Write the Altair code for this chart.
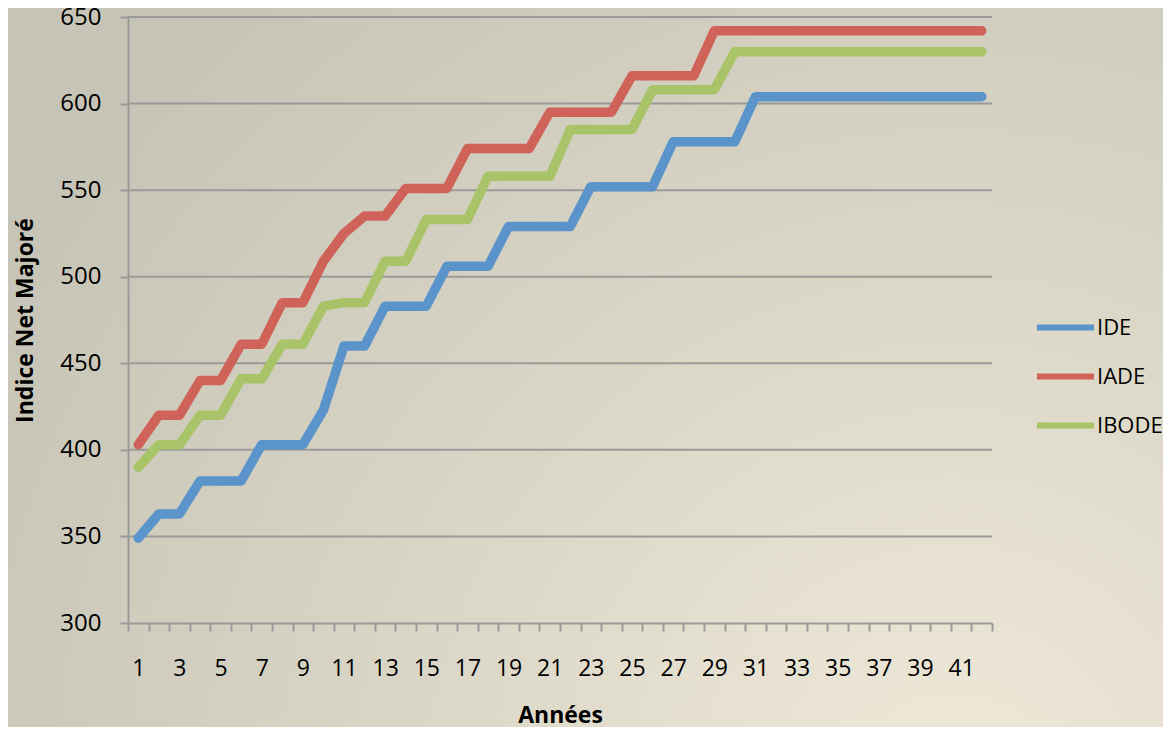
import altair as alt
import pandas as pd

# ---- data ----
years = list(range(1, 43))
ide = [349, 363, 363, 382, 382, 382, 403, 403, 403, 423,
       460, 460, 483, 483, 483, 506, 506, 506, 529, 529,
       529, 529, 552, 552, 552, 552, 578, 578, 578, 578,
       604, 604, 604, 604, 604, 604, 604, 604, 604, 604,
       604, 604]
iade = [403, 420, 420, 440, 440, 461, 461, 485, 485, 509,
        525, 535, 535, 551, 551, 551, 574, 574, 574, 574,
        595, 595, 595, 595, 616, 616, 616, 616, 642, 642,
        642, 642, 642, 642, 642, 642, 642, 642, 642, 642,
        642, 642]
ibode = [390, 403, 403, 420, 420, 441, 441, 461, 461, 483,
         485, 485, 509, 509, 533, 533, 533, 558, 558, 558,
         558, 585, 585, 585, 585, 608, 608, 608, 608, 630,
         630, 630, 630, 630, 630, 630, 630, 630, 630, 630,
         630, 630]
series_names = ["IDE", "IADE", "IBODE"]
series_colors = ["#5b93cb", "#cf6259", "#a9c468"]
y_ticks = [300, 350, 400, 450, 500, 550, 600, 650]

rows = []
for name, vals in zip(series_names, [ide, iade, ibode]):
    for yr, v in zip(years, vals):
        rows.append({"Année": yr, "Indice": v, "Série": name})
df = pd.DataFrame(rows)

FONT = "Open Sans, sans-serif"
W, H = 864, 606
PL, PT, PR, PB = 120, 9, 171, 104
GRAY = "#9a9a98"

y_scale = alt.Scale(domain=[300, 650], nice=False, zero=False)
y_axis = alt.Axis(
    title="Indice Net Majoré",
    values=y_ticks,
    grid=False,
    tickSize=8,
    tickWidth=2,
    tickColor=GRAY,
    domainColor=GRAY,
    domainWidth=2,
    labelFontSize=24,
    labelColor="#000000",
    labelFont=FONT,
    labelPadding=19,
    titleFont=FONT,
    titleFontSize=23,
    titleFontWeight="bold",
    titleColor="#000000",
    titlePadding=22,
    zindex=1,
)

# background gradient (whole chart)
bg = alt.Chart(pd.DataFrame({"a": [0]})).mark_rect(
    clip=False,
    fill=alt.RadialGradient(
        gradient="radial",
        x1=0.82, y1=0.88, r1=0.0,
        x2=0.82, y2=0.88, r2=0.95,
        stops=[alt.GradientStop(offset=0, color="#efe9d8"),
               alt.GradientStop(offset=1, color="#c6c4b6")],
    ),
).encode(
    x=alt.value(-PL), x2=alt.value(W + PR),
    y=alt.value(-PT), y2=alt.value(H + PB),
)

grid = alt.Chart(pd.DataFrame({"Indice": y_ticks[1:]})).mark_rule(
    color=GRAY, strokeWidth=2
).encode(y=alt.Y("Indice:Q", scale=y_scale, axis=y_axis))

lines = alt.Chart(df).mark_line(
    strokeWidth=9.5, strokeCap="round", strokeJoin="round"
).encode(
    x=alt.X(
        "Année:O",
        bandPosition=0.5,
        scale=alt.Scale(type="band", paddingInner=0, paddingOuter=0),
        axis=alt.Axis(
            title="Années",
            labelAngle=0,
            labelExpr="datum.value % 2 == 1 ? datum.label : ''",
            tickBand="extent",
            tickSize=8,
            tickWidth=2,
            tickColor=GRAY,
            domainColor=GRAY,
            domainWidth=2,
            labelFontSize=23,
            labelColor="#000000",
            labelFont=FONT,
            labelPadding=26,
            titleFont=FONT,
            titleFontSize=23,
            titleFontWeight="bold",
            titleColor="#000000",
            titlePadding=24,
            zindex=1,
        ),
    ),
    y=alt.Y("Indice:Q", scale=y_scale, axis=y_axis),
    color=alt.Color(
        "Série:N",
        sort=series_names,
        scale=alt.Scale(domain=series_names, range=series_colors),
        legend=alt.Legend(
            title=None,
            orient="none",
            legendX=906,
            legendY=279,
            symbolType="stroke",
            symbolSize=3249,
            symbolStrokeWidth=6,
            labelFontSize=22,
            labelFont=FONT,
            labelColor="#000000",
            rowPadding=5,
            labelOffset=0,
            padding=0,
        ),
    ),
)

chart = alt.layer(bg, grid, lines).properties(
    width=W, height=H,
    autosize=alt.AutoSizeParams(type="none"),
    padding={"left": PL, "top": PT, "right": PR, "bottom": PB},
).configure_view(stroke=None).configure(background="#d8d5c6")

chart.save("out.html", embed_options={"renderer": "svg", "actions": False})
